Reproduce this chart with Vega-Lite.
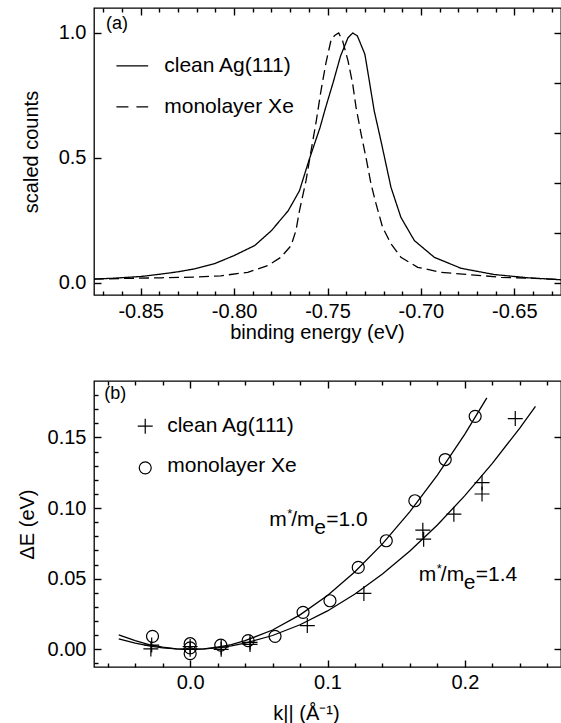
{
  "$schema": "https://vega.github.io/schema/vega-lite/v6.json",
  "autosize": {"type": "pad"},
  "padding": {"left": 16, "top": 6, "right": 0, "bottom": 0},
  "background": "white",
  "bounds": "flush",
  "spacing": 86,
  "config": {
    "view": {"stroke": "black", "strokeWidth": 1.3},
    "axis": {
      "domain": false, "grid": false, "ticks": true,
      "labelFont": "Liberation Sans", "labelFontSize": 20, "labelColor": "black",
      "titleFont": "Liberation Sans", "titleFontSize": 20, "titleFontWeight": "normal", "titleColor": "black",
      "tickColor": "#000000", "tickWidth": 1.4, "tickOpacity": 1
    },
    "text": {"font": "Liberation Sans", "color": "black"}
  },
  "datasets": {
    "curvesA": [
      {"series": "clean Ag(111)", "E": -0.875, "v": 0.014},
      {"series": "clean Ag(111)", "E": -0.865, "v": 0.017},
      {"series": "clean Ag(111)", "E": -0.850, "v": 0.024},
      {"series": "clean Ag(111)", "E": -0.840, "v": 0.033},
      {"series": "clean Ag(111)", "E": -0.830, "v": 0.043},
      {"series": "clean Ag(111)", "E": -0.821, "v": 0.055},
      {"series": "clean Ag(111)", "E": -0.810, "v": 0.077},
      {"series": "clean Ag(111)", "E": -0.800, "v": 0.108},
      {"series": "clean Ag(111)", "E": -0.789, "v": 0.148},
      {"series": "clean Ag(111)", "E": -0.780, "v": 0.208},
      {"series": "clean Ag(111)", "E": -0.771, "v": 0.288},
      {"series": "clean Ag(111)", "E": -0.765, "v": 0.368},
      {"series": "clean Ag(111)", "E": -0.760, "v": 0.488},
      {"series": "clean Ag(111)", "E": -0.754, "v": 0.621},
      {"series": "clean Ag(111)", "E": -0.751, "v": 0.701},
      {"series": "clean Ag(111)", "E": -0.747, "v": 0.801},
      {"series": "clean Ag(111)", "E": -0.743, "v": 0.908},
      {"series": "clean Ag(111)", "E": -0.739, "v": 0.981},
      {"series": "clean Ag(111)", "E": -0.7365, "v": 1.0},
      {"series": "clean Ag(111)", "E": -0.734, "v": 0.988},
      {"series": "clean Ag(111)", "E": -0.730, "v": 0.915},
      {"series": "clean Ag(111)", "E": -0.7285, "v": 0.848},
      {"series": "clean Ag(111)", "E": -0.725, "v": 0.688},
      {"series": "clean Ag(111)", "E": -0.7214, "v": 0.568},
      {"series": "clean Ag(111)", "E": -0.716, "v": 0.381},
      {"series": "clean Ag(111)", "E": -0.7107, "v": 0.261},
      {"series": "clean Ag(111)", "E": -0.7035, "v": 0.168},
      {"series": "clean Ag(111)", "E": -0.6928, "v": 0.101},
      {"series": "clean Ag(111)", "E": -0.6785, "v": 0.057},
      {"series": "clean Ag(111)", "E": -0.6607, "v": 0.032},
      {"series": "clean Ag(111)", "E": -0.6428, "v": 0.019},
      {"series": "clean Ag(111)", "E": -0.625, "v": 0.011},
      {"series": "monolayer Xe", "E": -0.875, "v": 0.014},
      {"series": "monolayer Xe", "E": -0.855, "v": 0.017},
      {"series": "monolayer Xe", "E": -0.839, "v": 0.019},
      {"series": "monolayer Xe", "E": -0.820, "v": 0.022},
      {"series": "monolayer Xe", "E": -0.807, "v": 0.027},
      {"series": "monolayer Xe", "E": -0.7927, "v": 0.041},
      {"series": "monolayer Xe", "E": -0.782, "v": 0.068},
      {"series": "monolayer Xe", "E": -0.775, "v": 0.101},
      {"series": "monolayer Xe", "E": -0.7695, "v": 0.148},
      {"series": "monolayer Xe", "E": -0.7669, "v": 0.208},
      {"series": "monolayer Xe", "E": -0.765, "v": 0.288},
      {"series": "monolayer Xe", "E": -0.7615, "v": 0.408},
      {"series": "monolayer Xe", "E": -0.7588, "v": 0.528},
      {"series": "monolayer Xe", "E": -0.756, "v": 0.648},
      {"series": "monolayer Xe", "E": -0.7535, "v": 0.768},
      {"series": "monolayer Xe", "E": -0.7508, "v": 0.881},
      {"series": "monolayer Xe", "E": -0.748, "v": 0.975},
      {"series": "monolayer Xe", "E": -0.746, "v": 0.991},
      {"series": "monolayer Xe", "E": -0.744, "v": 1.0},
      {"series": "monolayer Xe", "E": -0.7419, "v": 0.968},
      {"series": "monolayer Xe", "E": -0.739, "v": 0.888},
      {"series": "monolayer Xe", "E": -0.7365, "v": 0.795},
      {"series": "monolayer Xe", "E": -0.7347, "v": 0.701},
      {"series": "monolayer Xe", "E": -0.732, "v": 0.595},
      {"series": "monolayer Xe", "E": -0.7294, "v": 0.501},
      {"series": "monolayer Xe", "E": -0.7267, "v": 0.395},
      {"series": "monolayer Xe", "E": -0.724, "v": 0.315},
      {"series": "monolayer Xe", "E": -0.7205, "v": 0.221},
      {"series": "monolayer Xe", "E": -0.716, "v": 0.155},
      {"series": "monolayer Xe", "E": -0.7107, "v": 0.101},
      {"series": "monolayer Xe", "E": -0.7017, "v": 0.061},
      {"series": "monolayer Xe", "E": -0.6892, "v": 0.041},
      {"series": "monolayer Xe", "E": -0.673, "v": 0.031},
      {"series": "monolayer Xe", "E": -0.657, "v": 0.021},
      {"series": "monolayer Xe", "E": -0.6393, "v": 0.017},
      {"series": "monolayer Xe", "E": -0.625, "v": 0.012}
    ],
    "legendSolidA": [
      {"series": "clean Ag(111)", "E": -0.863, "v": 0.868},
      {"series": "clean Ag(111)", "E": -0.846, "v": 0.868}
    ],
    "legendDashA": [
      {"series": "monolayer Xe", "E": -0.863, "v": 0.704},
      {"series": "monolayer Xe", "E": -0.846, "v": 0.704}
    ],
    "legendTextA": [
      {"label": "clean Ag(111)", "E": -0.8374, "v": 0.844},
      {"label": "monolayer Xe", "E": -0.8374, "v": 0.681}
    ],
    "panelA": [{"label": "(a)", "E": -0.8686, "v": 1.016}],
    "curvesB": [
      {"fit": "1.0", "k": -0.052, "dE": 0.0103},
      {"fit": "1.0", "k": -0.04, "dE": 0.0061},
      {"fit": "1.0", "k": -0.03, "dE": 0.0034},
      {"fit": "1.0", "k": -0.02, "dE": 0.0015},
      {"fit": "1.0", "k": -0.01, "dE": 0.0004},
      {"fit": "1.0", "k": 0.0, "dE": 0.0},
      {"fit": "1.0", "k": 0.01, "dE": 0.0004},
      {"fit": "1.0", "k": 0.02, "dE": 0.0015},
      {"fit": "1.0", "k": 0.03, "dE": 0.0034},
      {"fit": "1.0", "k": 0.04, "dE": 0.0061},
      {"fit": "1.0", "k": 0.06, "dE": 0.0137},
      {"fit": "1.0", "k": 0.08, "dE": 0.0244},
      {"fit": "1.0", "k": 0.10, "dE": 0.0381},
      {"fit": "1.0", "k": 0.12, "dE": 0.0549},
      {"fit": "1.0", "k": 0.14, "dE": 0.0747},
      {"fit": "1.0", "k": 0.16, "dE": 0.0975},
      {"fit": "1.0", "k": 0.18, "dE": 0.1234},
      {"fit": "1.0", "k": 0.20, "dE": 0.1524},
      {"fit": "1.0", "k": 0.216, "dE": 0.178},
      {"fit": "1.4", "k": -0.052, "dE": 0.0074},
      {"fit": "1.4", "k": -0.04, "dE": 0.0044},
      {"fit": "1.4", "k": -0.03, "dE": 0.0024},
      {"fit": "1.4", "k": -0.02, "dE": 0.0011},
      {"fit": "1.4", "k": -0.01, "dE": 0.0003},
      {"fit": "1.4", "k": 0.0, "dE": 0.0},
      {"fit": "1.4", "k": 0.01, "dE": 0.0003},
      {"fit": "1.4", "k": 0.02, "dE": 0.0011},
      {"fit": "1.4", "k": 0.03, "dE": 0.0024},
      {"fit": "1.4", "k": 0.04, "dE": 0.0044},
      {"fit": "1.4", "k": 0.06, "dE": 0.0098},
      {"fit": "1.4", "k": 0.08, "dE": 0.0174},
      {"fit": "1.4", "k": 0.10, "dE": 0.0272},
      {"fit": "1.4", "k": 0.12, "dE": 0.0392},
      {"fit": "1.4", "k": 0.14, "dE": 0.0533},
      {"fit": "1.4", "k": 0.16, "dE": 0.0696},
      {"fit": "1.4", "k": 0.18, "dE": 0.0881},
      {"fit": "1.4", "k": 0.20, "dE": 0.1088},
      {"fit": "1.4", "k": 0.22, "dE": 0.1317},
      {"fit": "1.4", "k": 0.24, "dE": 0.1567},
      {"fit": "1.4", "k": 0.2514, "dE": 0.172}
    ],
    "pointsB": [
      {"sample": "monolayer Xe", "k": -0.0274, "dE": 0.0092},
      {"sample": "monolayer Xe", "k": 0.0, "dE": 0.004},
      {"sample": "monolayer Xe", "k": 0.0, "dE": 0.001},
      {"sample": "monolayer Xe", "k": 0.0, "dE": -0.003},
      {"sample": "monolayer Xe", "k": 0.0223, "dE": 0.003},
      {"sample": "monolayer Xe", "k": 0.0422, "dE": 0.0062},
      {"sample": "monolayer Xe", "k": 0.0618, "dE": 0.0092},
      {"sample": "monolayer Xe", "k": 0.0822, "dE": 0.0262},
      {"sample": "monolayer Xe", "k": 0.1018, "dE": 0.0344},
      {"sample": "monolayer Xe", "k": 0.1224, "dE": 0.058},
      {"sample": "monolayer Xe", "k": 0.1428, "dE": 0.0769},
      {"sample": "monolayer Xe", "k": 0.1636, "dE": 0.1052},
      {"sample": "monolayer Xe", "k": 0.1857, "dE": 0.1344},
      {"sample": "monolayer Xe", "k": 0.2075, "dE": 0.165},
      {"sample": "clean Ag(111)", "k": -0.0286, "dE": 0.0003},
      {"sample": "clean Ag(111)", "k": -0.028, "dE": 0.003},
      {"sample": "clean Ag(111)", "k": 0.0, "dE": 0.0},
      {"sample": "clean Ag(111)", "k": 0.0, "dE": 0.002},
      {"sample": "clean Ag(111)", "k": 0.0226, "dE": 0.0},
      {"sample": "clean Ag(111)", "k": 0.0226, "dE": 0.0015},
      {"sample": "clean Ag(111)", "k": 0.0436, "dE": 0.005},
      {"sample": "clean Ag(111)", "k": 0.0436, "dE": 0.0035},
      {"sample": "clean Ag(111)", "k": 0.0853, "dE": 0.0168},
      {"sample": "clean Ag(111)", "k": 0.1265, "dE": 0.0396},
      {"sample": "clean Ag(111)", "k": 0.170, "dE": 0.078},
      {"sample": "clean Ag(111)", "k": 0.1694, "dE": 0.0844},
      {"sample": "clean Ag(111)", "k": 0.192, "dE": 0.0957},
      {"sample": "clean Ag(111)", "k": 0.2125, "dE": 0.118},
      {"sample": "clean Ag(111)", "k": 0.2125, "dE": 0.110},
      {"sample": "clean Ag(111)", "k": 0.2367, "dE": 0.1634}
    ],
    "legendSymB": [
      {"sample": "clean Ag(111)", "k": -0.0327, "dE": 0.158},
      {"sample": "monolayer Xe", "k": -0.0327, "dE": 0.1285}
    ],
    "legendTextB": [
      {"label": "clean Ag(111)", "k": -0.0167, "dE": 0.154},
      {"label": "monolayer Xe", "k": -0.0167, "dE": 0.1256}
    ],
    "panelB": [{"label": "(b)", "k": -0.0625, "dE": 0.1773}],
    "annotB": [
      {"k": 0.0575, "dE": 0.0875, "rest": "=1.0"},
      {"k": 0.1665, "dE": 0.0486, "rest": "=1.4"}
    ]
  },
  "vconcat": [
    {
      "width": 467,
      "height": 287,
      "layer": [
        {
          "data": {"name": "curvesA"},
          "mark": {"type": "line", "stroke": "black", "strokeWidth": 1.3, "clip": true},
          "encoding": {
            "x": {"field": "E", "type": "quantitative", "scale": {"domain": [-0.875, -0.625], "nice": false, "zero": false},
              "axis": {"orient": "bottom", "offset": -7, "values": [-0.85, -0.8, -0.75, -0.7, -0.65], "format": ".2f", "labelExpr": "replace(datum.label, '\u2212', '-')", "tickSize": 7, "labelPadding": 6,
                "title": "binding energy  (eV)", "titleX": 223, "titleY": 50, "titleBaseline": "alphabetic"}},
            "y": {"field": "v", "type": "quantitative", "scale": {"domain": [-0.05, 1.1], "nice": false, "zero": false},
              "axis": {"orient": "left", "offset": -7, "values": [0, 0.5, 1], "format": ".1f", "tickSize": 7, "labelPadding": 8,
                "title": "scaled counts", "titleX": -70, "titleBaseline": "middle"}},
            "strokeDash": {"field": "series", "type": "nominal",
              "scale": {"domain": ["clean Ag(111)", "monolayer Xe"], "range": [[1, 0], [10, 5]]}, "legend": null}
          }
        },
        {
          "data": {"name": "legendSolidA"},
          "mark": {"type": "line", "stroke": "black", "strokeWidth": 1.3},
          "encoding": {
            "x": {"field": "E", "type": "quantitative", "scale": {"domain": [-0.875, -0.625], "nice": false, "zero": false},
              "axis": {"orient": "bottom", "offset": -4, "values": [-0.87, -0.86, -0.84, -0.83, -0.82, -0.81, -0.79, -0.78, -0.77, -0.76, -0.74, -0.73, -0.72, -0.71, -0.69, -0.68, -0.67, -0.66, -0.64, -0.63], "tickSize": 4, "labels": false, "title": null}},
            "y": {"field": "v", "type": "quantitative", "scale": {"domain": [-0.05, 1.1], "nice": false, "zero": false},
              "axis": {"orient": "right", "offset": -7, "values": [0, 0.2, 0.4, 0.6, 0.8, 1.0], "tickSize": 7, "labels": false, "title": null}}
          }
        },
        {
          "data": {"name": "legendDashA"},
          "mark": {"type": "line", "stroke": "black", "strokeWidth": 1.3, "strokeDash": [12, 8]},
          "encoding": {
            "x": {"field": "E", "type": "quantitative", "scale": {"domain": [-0.875, -0.625], "nice": false, "zero": false}, "axis": null},
            "y": {"field": "v", "type": "quantitative", "scale": {"domain": [-0.05, 1.1], "nice": false, "zero": false}, "axis": null}
          }
        },
        {
          "data": {"name": "legendTextA"},
          "mark": {"type": "text", "align": "left", "baseline": "alphabetic", "fontSize": 21},
          "encoding": {
            "x": {"field": "E", "type": "quantitative", "scale": {"domain": [-0.875, -0.625], "nice": false, "zero": false},
              "axis": {"orient": "top", "offset": -7, "values": [-0.85, -0.8, -0.75, -0.7, -0.65], "tickSize": 7, "labels": false, "title": null}},
            "y": {"field": "v", "type": "quantitative", "scale": {"domain": [-0.05, 1.1], "nice": false, "zero": false}, "axis": null},
            "text": {"field": "label"}
          }
        },
        {
          "data": {"name": "panelA"},
          "mark": {"type": "text", "align": "left", "baseline": "alphabetic", "fontSize": 18},
          "encoding": {
            "x": {"field": "E", "type": "quantitative", "scale": {"domain": [-0.875, -0.625], "nice": false, "zero": false},
              "axis": {"orient": "top", "offset": -4, "values": [-0.87, -0.86, -0.84, -0.83, -0.82, -0.81, -0.79, -0.78, -0.77, -0.76, -0.74, -0.73, -0.72, -0.71, -0.69, -0.68, -0.67, -0.66, -0.64, -0.63], "tickSize": 4, "labels": false, "title": null}},
            "y": {"field": "v", "type": "quantitative", "scale": {"domain": [-0.05, 1.1], "nice": false, "zero": false}, "axis": null},
            "text": {"field": "label"}
          }
        }
      ]
    },
    {
      "width": 467,
      "height": 286,
      "layer": [
        {
          "data": {"name": "curvesB"},
          "mark": {"type": "line", "stroke": "black", "strokeWidth": 1.3, "clip": true},
          "encoding": {
            "x": {"field": "k", "type": "quantitative", "scale": {"domain": [-0.07, 0.27], "nice": false, "zero": false},
              "axis": {"orient": "bottom", "offset": -7, "values": [0, 0.1, 0.2], "format": ".1f", "tickSize": 7, "labelPadding": 5,
                "title": "k||  (Å⁻¹)", "titleX": 212, "titleY": 59, "titleBaseline": "alphabetic"}},
            "y": {"field": "dE", "type": "quantitative", "scale": {"domain": [-0.0125, 0.19], "nice": false, "zero": false},
              "axis": {"orient": "left", "offset": -7, "values": [0, 0.05, 0.1, 0.15], "format": ".2f", "tickSize": 7, "labelPadding": 8,
                "title": "ΔE  (eV)", "titleX": -74, "titleBaseline": "middle"}},
            "detail": {"field": "fit", "type": "nominal"}
          }
        },
        {
          "data": {"name": "pointsB"},
          "mark": {"type": "point", "filled": false, "color": "black", "strokeWidth": 1.2, "size": 144, "opacity": 1},
          "encoding": {
            "x": {"field": "k", "type": "quantitative", "scale": {"domain": [-0.07, 0.27], "nice": false, "zero": false},
              "axis": {"orient": "bottom", "offset": -4, "values": [-0.06, -0.04, -0.02, 0.02, 0.04, 0.06, 0.08, 0.12, 0.14, 0.16, 0.18, 0.22, 0.24, 0.26], "tickSize": 4, "labels": false, "title": null}},
            "y": {"field": "dE", "type": "quantitative", "scale": {"domain": [-0.0125, 0.19], "nice": false, "zero": false},
              "axis": {"orient": "left", "offset": -4, "values": [-0.01, 0.01, 0.02, 0.03, 0.04, 0.06, 0.07, 0.08, 0.09, 0.11, 0.12, 0.13, 0.14, 0.16, 0.17, 0.18], "tickSize": 4, "labels": false, "title": null}},
            "shape": {"field": "sample", "type": "nominal",
              "scale": {"domain": ["clean Ag(111)", "monolayer Xe"], "range": ["M-1.25,0H1.25M0,-1.25V1.25", "circle"]}, "legend": null}
          }
        },
        {
          "data": {"name": "legendSymB"},
          "mark": {"type": "point", "filled": false, "color": "black", "strokeWidth": 1.2, "size": 144, "opacity": 1},
          "encoding": {
            "x": {"field": "k", "type": "quantitative", "scale": {"domain": [-0.07, 0.27], "nice": false, "zero": false},
              "axis": {"orient": "top", "offset": -7, "values": [0, 0.1, 0.2], "tickSize": 7, "labels": false, "title": null}},
            "y": {"field": "dE", "type": "quantitative", "scale": {"domain": [-0.0125, 0.19], "nice": false, "zero": false},
              "axis": {"orient": "right", "offset": -7, "values": [0, 0.05, 0.1, 0.15], "tickSize": 7, "labels": false, "title": null}},
            "shape": {"field": "sample", "type": "nominal",
              "scale": {"domain": ["clean Ag(111)", "monolayer Xe"], "range": ["M-1.25,0H1.25M0,-1.25V1.25", "circle"]}, "legend": null}
          }
        },
        {
          "data": {"name": "legendTextB"},
          "mark": {"type": "text", "align": "left", "baseline": "alphabetic", "fontSize": 21},
          "encoding": {
            "x": {"field": "k", "type": "quantitative", "scale": {"domain": [-0.07, 0.27], "nice": false, "zero": false},
              "axis": {"orient": "top", "offset": -4, "values": [-0.06, -0.04, -0.02, 0.02, 0.04, 0.06, 0.08, 0.12, 0.14, 0.16, 0.18, 0.22, 0.24, 0.26], "tickSize": 4, "labels": false, "title": null}},
            "y": {"field": "dE", "type": "quantitative", "scale": {"domain": [-0.0125, 0.19], "nice": false, "zero": false}, "axis": null},
            "text": {"field": "label"}
          }
        },
        {
          "data": {"name": "panelB"},
          "mark": {"type": "text", "align": "left", "baseline": "alphabetic", "fontSize": 18},
          "encoding": {
            "x": {"field": "k", "type": "quantitative", "scale": {"domain": [-0.07, 0.27], "nice": false, "zero": false}, "axis": null},
            "y": {"field": "dE", "type": "quantitative", "scale": {"domain": [-0.0125, 0.19], "nice": false, "zero": false}, "axis": null},
            "text": {"field": "label"}
          }
        },
        {
          "data": {"name": "annotB"},
          "mark": {"type": "text", "align": "left", "baseline": "alphabetic", "fontSize": 21, "text": "m"},
          "encoding": {
            "x": {"field": "k", "type": "quantitative", "scale": {"domain": [-0.07, 0.27], "nice": false, "zero": false}, "axis": null},
            "y": {"field": "dE", "type": "quantitative", "scale": {"domain": [-0.0125, 0.19], "nice": false, "zero": false}, "axis": null}
          }
        },
        {
          "data": {"name": "annotB"},
          "mark": {"type": "text", "align": "left", "baseline": "alphabetic", "fontSize": 13, "text": "*", "dx": 18, "dy": -8},
          "encoding": {
            "x": {"field": "k", "type": "quantitative", "scale": {"domain": [-0.07, 0.27], "nice": false, "zero": false}, "axis": null},
            "y": {"field": "dE", "type": "quantitative", "scale": {"domain": [-0.0125, 0.19], "nice": false, "zero": false}, "axis": null}
          }
        },
        {
          "data": {"name": "annotB"},
          "mark": {"type": "text", "align": "left", "baseline": "alphabetic", "fontSize": 21, "text": "/m", "dx": 22},
          "encoding": {
            "x": {"field": "k", "type": "quantitative", "scale": {"domain": [-0.07, 0.27], "nice": false, "zero": false}, "axis": null},
            "y": {"field": "dE", "type": "quantitative", "scale": {"domain": [-0.0125, 0.19], "nice": false, "zero": false}, "axis": null}
          }
        },
        {
          "data": {"name": "annotB"},
          "mark": {"type": "text", "align": "left", "baseline": "alphabetic", "fontSize": 21, "text": "e", "dx": 45, "dy": 8},
          "encoding": {
            "x": {"field": "k", "type": "quantitative", "scale": {"domain": [-0.07, 0.27], "nice": false, "zero": false}, "axis": null},
            "y": {"field": "dE", "type": "quantitative", "scale": {"domain": [-0.0125, 0.19], "nice": false, "zero": false}, "axis": null}
          }
        },
        {
          "data": {"name": "annotB"},
          "mark": {"type": "text", "align": "left", "baseline": "alphabetic", "fontSize": 21, "dx": 57},
          "encoding": {
            "x": {"field": "k", "type": "quantitative", "scale": {"domain": [-0.07, 0.27], "nice": false, "zero": false}, "axis": null},
            "y": {"field": "dE", "type": "quantitative", "scale": {"domain": [-0.0125, 0.19], "nice": false, "zero": false}, "axis": null},
            "text": {"field": "rest"}
          }
        }
      ]
    }
  ]
}
